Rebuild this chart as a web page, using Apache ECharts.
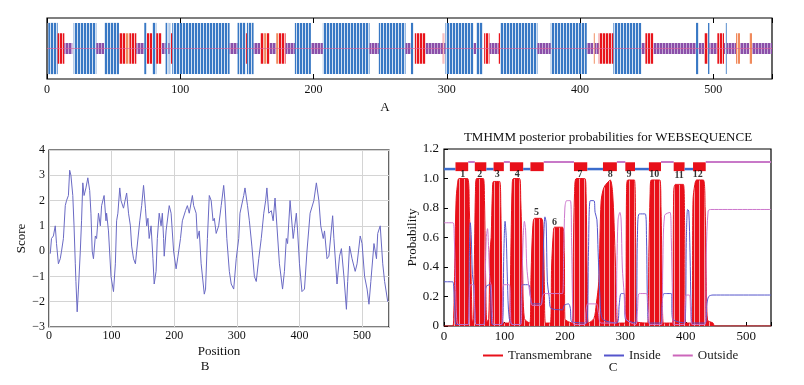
<!DOCTYPE html>
<html>
<head>
<meta charset="utf-8">
<script src="https://cdn.jsdelivr.net/npm/echarts@6/dist/echarts.min.js"></script>
<style>
  html, body { margin: 0; padding: 0; background: #fff; }
  #chart { width: 804px; height: 385px; }
</style>
</head>
<body>
<div id="chart"></div>
<script>
// ---- panel A: topology stripes [start, end, type] (b=blue, r=red, o=orange, p=purple)
var topoA = [
  [1, 8, 'b'], [8, 13, 'r'], [13, 19, 'p'], [20, 37, 'b'], [37, 43, 'p'], [43, 54, 'b'],
  [54, 59, 'r'], [59, 62, 'o'], [62, 67, 'r'], [67, 73, 'p'], [73, 75, 'b'], [75, 79, 'r'],
  [79, 82, 'b'], [82, 86, 'r'], [86, 89, 'p'], [89, 91, 'b'], [91, 92, 'p'], [92, 93, 'b'],
  [93, 94, 'r'], [94, 137, 'b'], [137, 143, 'p'], [143, 149, 'b'], [149, 150, 'r'], [150, 155, 'b'],
  [155, 160, 'p'], [160, 163, 'r'], [163, 165, 'o'], [165, 167, 'r'], [167, 172, 'p'], [172, 174, 'o'],
  [174, 179, 'r'], [179, 186, 'p'], [186, 198, 'b'], [198, 207, 'p'], [207, 242, 'b'], [242, 249, 'p'],
  [249, 269, 'b'], [269, 273, 'p'], [273, 275, 'b'], [276, 284, 'r'], [284, 297, 'p'], [297, 298, 'r'],
  [298, 299, 'p'], [299, 320, 'b'], [320, 322, 'p'], [322, 327, 'b'], [328, 332, 'r'], [332, 339, 'p'],
  [339, 340, 'r'], [340, 368, 'b'], [368, 378, 'p'], [378, 405, 'b'], [405, 410, 'p'], [410, 411, 'o'],
  [411, 414, 'p'], [414, 425, 'r'], [425, 446, 'b'], [446, 449, 'p'], [449, 455, 'r'], [455, 487, 'p'],
  [487, 489, 'b'], [489, 493, 'p'], [493, 496, 'r'], [496, 497, 'b'], [497, 503, 'p'], [503, 508, 'r'],
  [508, 509, 'p'], [509, 510, 'b'], [510, 517, 'p'], [517, 520, 'o'], [520, 527, 'p'], [527, 529, 'o'],
  [529, 544, 'p']
];

// ---- panel B: hydropathy score [position, score]
var scorePts = [
  [2, -0.1], [4, 0.5], [7, 0.6], [10, 1.0], [12, 0.3], [15, -0.5], [18, -0.3], [20, 0.0], [23, 0.5],
  [26, 1.8], [28, 2.0], [31, 2.2], [33, 3.2], [35, 3.0], [38, 2.2], [40, 1.0], [42, -0.5], [43, -1.2],
  [45, -2.4], [47, -1.5], [50, 0.0], [52, 1.2], [54, 2.7], [56, 2.2], [59, 2.5], [62, 2.9], [65, 2.4],
  [67, 1.5], [69, 0.0], [71, -0.3], [74, 0.6], [76, 0.5], [79, 1.5], [82, 1.0], [84, 1.8], [88, 2.2],
  [91, 1.2], [92, 1.5], [95, 0.8], [99, -1.0], [103, -1.6], [106, -0.5], [108, 1.2], [110, 1.5],
  [113, 2.5], [115, 2.0], [119, 1.7], [124, 2.3], [127, 1.5], [130, 1.0], [132, 0.2], [135, -0.3],
  [138, -0.5], [140, 0.0], [145, 1.2], [148, 1.8], [151, 2.6], [154, 1.7], [156, 1.0], [158, 1.3],
  [160, 0.5], [163, 1.0], [166, -0.3], [168, -1.3], [171, -0.8], [173, 0.5], [176, 1.5], [179, 1.0],
  [181, 1.5], [183, 0.5], [184, -0.2], [187, 0.8], [192, 1.8], [195, 1.5], [199, 0.0], [203, -0.7],
  [206, -0.2], [210, 0.5], [213, 1.2], [218, 1.6], [221, 1.8], [224, 1.5], [229, 2.2], [231, 1.8],
  [235, 1.5], [237, 0.5], [240, 0.8], [243, -0.5], [248, -1.7], [250, -1.5], [253, 0.5], [256, 2.2],
  [259, 2.0], [262, 1.2], [264, 1.3], [267, 0.7], [271, 1.0], [275, 1.8], [279, 2.6], [281, 2.0],
  [284, 0.5], [288, -0.8], [291, -1.3], [295, -1.5], [299, -0.3], [303, 0.5], [305, 1.5], [311, 2.2],
  [313, 2.5], [317, 1.8], [320, 1.2], [324, 0.2], [328, -1.0], [331, -1.2], [335, -0.3], [339, 0.5],
  [343, 1.5], [346, 2.0], [348, 2.5], [351, 1.5], [355, 1.6], [358, 1.2], [361, 2.1], [364, 1.0],
  [368, -0.5], [373, -1.5], [376, -0.8], [379, 0.5], [381, 0.3], [385, 2.0], [390, 0.5], [392, 0.9],
  [395, 1.5], [397, 0.8], [400, -0.5], [404, -1.6], [408, -1.5], [412, 0.0], [417, 1.5], [423, 2.0],
  [427, 2.7], [431, 2.0], [434, 1.0], [438, 0.5], [440, 0.8], [444, -0.3], [447, -0.2], [453, 1.4],
  [455, 0.5], [460, -1.3], [464, -0.2], [467, 0.1], [471, -1.0], [475, -2.3], [477, -1.2], [480, 0.2],
  [484, -0.3], [489, -0.8], [492, -0.5], [497, 0.6], [500, 0.3], [504, -1.0], [508, -1.5], [511, -2.1],
  [514, -1.2], [519, 0.3], [523, -0.3], [525, 0.7], [529, 1.0], [533, -0.5], [536, -1.2], [541, -2.0]
];

// ---- panel C: TMHMM posterior probabilities [position, probability]
var tmPts = [
  [0, 0], [14, 0], [16, 0.05], [18, 0.5], [20, 0.85], [22, 0.95], [25, 1.0], [39, 1.0], [42, 0.78],
  [45, 0.3], [47, 0.03], [49, 0.05], [50, 0.35], [52, 0.9], [54, 1.0], [65, 1.0], [67, 0.85], [69, 0.3],
  [71, 0.03], [74, 0.05], [76, 0.5], [78, 0.6], [80, 0.9], [82, 0.98], [92, 0.98], [94, 0.8], [96, 0.2],
  [98, 0.02], [107, 0.02], [109, 0.1], [111, 0.6], [113, 0.97], [115, 1.0], [125, 1.0], [127, 0.85],
  [130, 0.4], [133, 0.05], [142, 0.02], [144, 0.35], [147, 0.68], [150, 0.73], [161, 0.73], [164, 0.65],
  [166, 0.3], [168, 0.02], [176, 0.02], [178, 0.4], [181, 0.64], [183, 0.67], [196, 0.67], [199, 0.5],
  [200, 0.05], [212, 0.02], [214, 0.5], [216, 0.9], [219, 1.0], [233, 1.0], [235, 0.9], [237, 0.3],
  [239, 0.02], [248, 0.05], [252, 0.15], [256, 0.3], [258, 0.6], [260, 0.85], [263, 0.92], [266, 0.95],
  [270, 0.97], [275, 0.99], [279, 0.9], [283, 0.5], [286, 0.1], [288, 0.02], [300, 0.02], [302, 0.9],
  [304, 0.99], [315, 0.99], [317, 0.6], [319, 0.03], [337, 0.02], [339, 0.5], [341, 0.9], [343, 0.99],
  [357, 0.99], [359, 0.8], [361, 0.3], [363, 0.02], [378, 0.02], [380, 0.9], [383, 0.96], [396, 0.96],
  [398, 0.7], [400, 0.02], [410, 0.02], [412, 0.85], [415, 0.96], [418, 0.99], [429, 0.99], [432, 0.8],
  [434, 0.3], [436, 0.04], [445, 0.02], [448, 0], [541, 0]
];
var insidePts = [
  [0, 0.30], [14, 0.30], [16, 0.27], [18, 0.1], [20, 0.01], [40, 0.01], [42, 0.5], [43.5, 0.70],
  [45, 0.62], [47, 0.35], [49, 0.28], [51, 0.1], [53, 0.01], [66, 0.01], [68, 0.2], [70, 0.27],
  [76, 0.28], [78, 0.1], [80, 0.01], [96, 0.01], [99, 0.5], [101, 0.71], [103, 0.6], [105, 0.3],
  [108, 0.05], [114, 0.01], [126, 0.01], [128, 0.2], [130, 0.28], [140, 0.28], [143, 0.2], [146, 0.15],
  [160, 0.15], [163, 0.25], [165, 0.6], [167, 0.74], [169, 0.7], [171, 0.3], [174, 0.2], [177, 0.12],
  [196, 0.11], [199, 0.14], [206, 0.15], [209, 0.12], [211, 0.03], [236, 0.02], [239, 0.5], [242, 0.85],
  [248, 0.85], [250, 0.77], [253, 0.72], [255, 0.5], [258, 0.2], [262, 0.05], [286, 0.02], [290, 0.15],
  [293, 0.22], [298, 0.22], [300, 0.05], [317, 0.02], [320, 0.6], [323, 0.76], [333, 0.76], [335, 0.6],
  [337, 0.1], [340, 0.02], [359, 0.02], [361, 0.15], [364, 0.22], [376, 0.22], [378, 0.05], [398, 0.02],
  [401, 0.6], [403, 0.79], [405, 0.78], [407, 0.5], [409, 0.1], [411, 0.02], [432, 0.02], [435, 0.15],
  [438, 0.2], [445, 0.21], [541, 0.21]
];
var outsidePts = [
  [0, 0.70], [15, 0.70], [17, 0.6], [19, 0.3], [21, 0.05], [24, 0.01], [40, 0.01], [42, 0.2], [44, 0.28],
  [49, 0.28], [51, 0.1], [53, 0.01], [66, 0.01], [68, 0.3], [70, 0.6], [72, 0.66], [74, 0.5], [76, 0.3],
  [78, 0.28], [80, 0.1], [82, 0.01], [95, 0.01], [97, 0.2], [99, 0.28], [108, 0.28], [110, 0.1],
  [112, 0.01], [127, 0.01], [129, 0.3], [131, 0.6], [133, 0.71], [135, 0.65], [137, 0.4], [140, 0.28],
  [143, 0.2], [146, 0.14], [160, 0.14], [163, 0.2], [166, 0.22], [196, 0.22], [198, 0.5], [200, 0.8],
  [203, 0.85], [209, 0.85], [211, 0.6], [213, 0.1], [215, 0.01], [233, 0.01], [235, 0.1], [238, 0.15],
  [252, 0.15], [255, 0.1], [260, 0.02], [284, 0.02], [286, 0.4], [288, 0.72], [291, 0.77], [293, 0.72],
  [295, 0.4], [298, 0.22], [301, 0.05], [317, 0.01], [320, 0.1], [323, 0.22], [335, 0.22], [338, 0.1],
  [341, 0.01], [360, 0.01], [362, 0.4], [365, 0.75], [374, 0.77], [376, 0.6], [378, 0.2], [380, 0.01],
  [397, 0.01], [399, 0.15], [401, 0.21], [406, 0.21], [408, 0.1], [410, 0.01], [432, 0.01], [434, 0.5],
  [437, 0.78], [441, 0.79], [541, 0.79]
];
// top topology bar: [start, end, type] 0 = inside, 1 = outside, 2 = helix
var topoC = [
  [0, 19, 0], [19, 40, 2], [40, 51, 1], [51, 70, 2], [70, 82, 0], [82, 99, 2], [99, 109, 1],
  [109, 131, 2], [131, 143, 0], [143, 165, 2], [165, 215, 1], [215, 237, 2], [237, 263, 0],
  [263, 286, 2], [286, 300, 1], [300, 316, 2], [316, 339, 0], [339, 359, 2], [359, 380, 1],
  [380, 398, 2], [398, 412, 0], [412, 433, 2], [433, 541, 1]
];
// helix numbers [position, probability, label]
var helixLabels = [
  [31, 1.03, '1'], [59, 1.03, '2'], [88, 1.03, '3'], [121, 1.03, '4'], [153, 0.77, '5'], [183, 0.70, '6'],
  [225, 1.03, '7'], [275, 1.03, '8'], [306, 1.03, '9'], [348, 1.03, '10'], [389, 1.02, '11'], [420, 1.03, '12']
];

var FONT = "'Liberation Serif', 'DejaVu Serif', serif";

// striped fill patterns
function stripe(color, gap, w, gw) {
  var c = document.createElement('canvas');
  c.width = w; c.height = 4;
  var ctx = c.getContext('2d');
  ctx.fillStyle = color; ctx.fillRect(0, 0, w - gw, 4);
  ctx.fillStyle = gap; ctx.fillRect(w - gw, 0, gw, 4);
  return { image: c, repeat: 'repeat' };
}
var fillA = {
  b: stripe('#3878c4', '#d2e0f2', 3, 1),
  r: stripe('#e8141c', '#f6c0c0', 3, 1),
  o: stripe('#f08a5c', '#fcd8c6', 3, 1),
  p: stripe('#8b4fa9', '#c4a8d6', 3, 1)
};
var halfA = { b: 0.42, r: 0.25, o: 0.25, p: 0.09 };
var tmFill = stripe('#e8101a', '#f4a2a2', 5, 1);

var chart = echarts.init(document.getElementById('chart'));

chart.setOption({
  backgroundColor: '#fff',
  animation: false,
  grid: [
    { left: 47, top: 18, width: 725, height: 61, show: true, borderColor: '#000', borderWidth: 1.2, backgroundColor: '#fff' },
    { left: 49, top: 150, width: 340, height: 177, show: true, borderColor: '#000', borderWidth: 1.2, backgroundColor: '#fff' },
    { left: 444, top: 149, width: 327, height: 177, show: true, borderColor: '#000', borderWidth: 1.2, backgroundColor: '#fff' }
  ],
  xAxis: [
    {
      gridIndex: 0, type: 'value', min: 0, max: 544, interval: 100,
      axisLine: { show: false },
      axisTick: { inside: true, length: 5, lineStyle: { color: '#000' } },
      splitLine: { show: false },
      axisLabel: {
        margin: 5, color: '#111', fontFamily: FONT, fontSize: 12,
        formatter: function (v) { return v % 100 === 0 ? v : ''; }
      }
    },
    {
      gridIndex: 0, type: 'value', position: 'top', min: 0, max: 544, interval: 100,
      axisLine: { show: false },
      axisTick: { inside: true, length: 5, lineStyle: { color: '#000' } },
      splitLine: { show: false },
      axisLabel: { show: false }
    },
    {
      gridIndex: 1, type: 'value', min: 0, max: 543, interval: 100,
      name: 'Position', nameLocation: 'middle', nameGap: 18,
      nameTextStyle: { fontFamily: FONT, fontSize: 13, color: '#111' },
      axisLine: { show: false },
      axisTick: { show: false },
      splitLine: { show: true, lineStyle: { color: '#d4d4d4', width: 1 } },
      axisLabel: {
        margin: 3, color: '#111', fontFamily: FONT, fontSize: 12,
        formatter: function (v) { return v % 100 === 0 ? v : ''; }
      }
    },
    {
      gridIndex: 2, type: 'value', min: 0, max: 541, interval: 100,
      axisLine: { show: false },
      axisTick: { inside: true, length: 4, lineStyle: { color: '#000' } },
      splitLine: { show: false },
      axisLabel: {
        margin: 4, color: '#111', fontFamily: FONT, fontSize: 13,
        formatter: function (v) { return v % 100 === 0 ? v : ''; }
      }
    }
  ],
  yAxis: [
    { gridIndex: 0, type: 'value', min: 0, max: 1, show: false },
    {
      gridIndex: 1, type: 'value', min: -3, max: 4, interval: 1,
      name: 'Score', nameLocation: 'middle', nameGap: 16,
      nameTextStyle: { fontFamily: FONT, fontSize: 13, color: '#111' },
      axisLine: { show: false },
      axisTick: { show: false },
      splitLine: { show: true, lineStyle: { color: '#d4d4d4', width: 1 } },
      axisLabel: {
        margin: 4, color: '#111', fontFamily: FONT, fontSize: 12,
        formatter: function (v) { return String(v).replace('-', '\u2212'); }
      }
    },
    {
      gridIndex: 2, type: 'value', min: 0, max: 1.2, interval: 0.2,
      name: 'Probability', nameLocation: 'middle', nameGap: 24,
      nameTextStyle: { fontFamily: FONT, fontSize: 13, color: '#111' },
      axisLine: { show: false },
      axisTick: { inside: true, length: 4, lineStyle: { color: '#000' } },
      splitLine: { show: false },
      axisLabel: {
        margin: 5, color: '#111', fontFamily: FONT, fontSize: 13,
        formatter: function (v) { return v === 0 ? '0' : v.toFixed(1); }
      }
    }
  ],
  legend: {
    left: 478, top: 344, itemWidth: 20, itemHeight: 2, itemGap: 12,
    textStyle: { fontFamily: FONT, fontSize: 13, color: '#222' },
    data: [
      { name: 'Transmembrane', icon: 'rect', itemStyle: { color: '#e8101a' } },
      { name: 'Inside', icon: 'rect', itemStyle: { color: '#5555cc' } },
      { name: 'Outside', icon: 'rect', itemStyle: { color: '#cc66bb' } }
    ]
  },
  graphic: [
    { type: 'text', x: 385, y: 108, style: { text: 'A', font: '13px ' + FONT, fill: '#111', align: 'center', verticalAlign: 'middle' } },
    { type: 'text', x: 205, y: 367, style: { text: 'B', font: '13px ' + FONT, fill: '#111', align: 'center', verticalAlign: 'middle' } },
    { type: 'text', x: 613, y: 368, style: { text: 'C', font: '13px ' + FONT, fill: '#111', align: 'center', verticalAlign: 'middle' } },
    { type: 'text', x: 608, y: 138, style: { text: 'TMHMM posterior probabilities for WEBSEQUENCE', font: '13px ' + FONT, fill: '#111', align: 'center', verticalAlign: 'middle' } }
  ],
  series: [
    // A: topology stripes
    {
      type: 'custom', xAxisIndex: 0, yAxisIndex: 0,
      data: topoA,
      encode: { x: [0, 1] },
      renderItem: function (params, api) {
        var item = topoA[params.dataIndex];
        var h = halfA[item[2]];
        var p1 = api.coord([item[0], 0.5 + h]);
        var p2 = api.coord([item[1], 0.5 - h]);
        return {
          type: 'rect',
          shape: { x: p1[0], y: p1[1], width: p2[0] - p1[0], height: p2[1] - p1[1] },
          style: { fill: fillA[item[2]] }
        };
      },
      markLine: {
        silent: true, symbol: 'none', label: { show: false },
        lineStyle: { color: '#e0609a', width: 0.8, type: 'solid', opacity: 0.8 },
        data: [{ yAxis: 0.5 }]
      }
    },
    // B: score
    {
      type: 'line', xAxisIndex: 2, yAxisIndex: 1,
      data: scorePts, symbol: 'none',
      lineStyle: { color: '#6a6ac4', width: 1 }
    },
    // C: transmembrane
    {
      name: 'Transmembrane', type: 'line', xAxisIndex: 3, yAxisIndex: 2,
      data: tmPts, symbol: 'none', smooth: 0.3,
      itemStyle: { color: '#e8101a' },
      lineStyle: { color: '#e8101a', width: 1 },
      areaStyle: { color: tmFill, opacity: 1 }
    },
    {
      name: 'Inside', type: 'line', xAxisIndex: 3, yAxisIndex: 2,
      data: insidePts, symbol: 'none', smooth: 0.3,
      itemStyle: { color: '#5555cc' },
      lineStyle: { color: '#5555cc', width: 1 }
    },
    {
      name: 'Outside', type: 'line', xAxisIndex: 3, yAxisIndex: 2,
      data: outsidePts, symbol: 'none', smooth: 0.3,
      itemStyle: { color: '#cc66bb' },
      lineStyle: { color: '#cc77cc', width: 1 }
    },
    // C: topology bar at the top
    {
      type: 'custom', xAxisIndex: 3, yAxisIndex: 2,
      data: topoC,
      encode: { x: [0, 1] },
      renderItem: function (params, api) {
        var item = topoC[params.dataIndex];
        if (item[2] === 2) {
          var a = api.coord([item[0], 1.11]);
          var b = api.coord([item[1], 1.05]);
          return { type: 'rect', shape: { x: a[0], y: a[1], width: b[0] - a[0], height: b[1] - a[1] }, style: { fill: '#e8101a' } };
        }
        var yv = item[2] === 0 ? 1.064 : 1.112;
        var s = api.coord([item[0], yv]);
        var e = api.coord([item[1], yv]);
        return {
          type: 'line',
          shape: { x1: s[0], y1: s[1], x2: e[0], y2: e[1] },
          style: { stroke: item[2] === 0 ? '#3a6ccc' : '#c878c8', lineWidth: item[2] === 0 ? 2.5 : 2 }
        };
      }
    },
    // C: helix numbers
    {
      type: 'scatter', xAxisIndex: 3, yAxisIndex: 2,
      data: helixLabels, symbolSize: 0,
      label: {
        show: true, position: 'inside', fontFamily: FONT, fontSize: 10, fontWeight: 'bold', color: '#000',
        formatter: function (p) { return p.data[2]; }
      }
    }
  ]
});
</script>
</body>
</html>
